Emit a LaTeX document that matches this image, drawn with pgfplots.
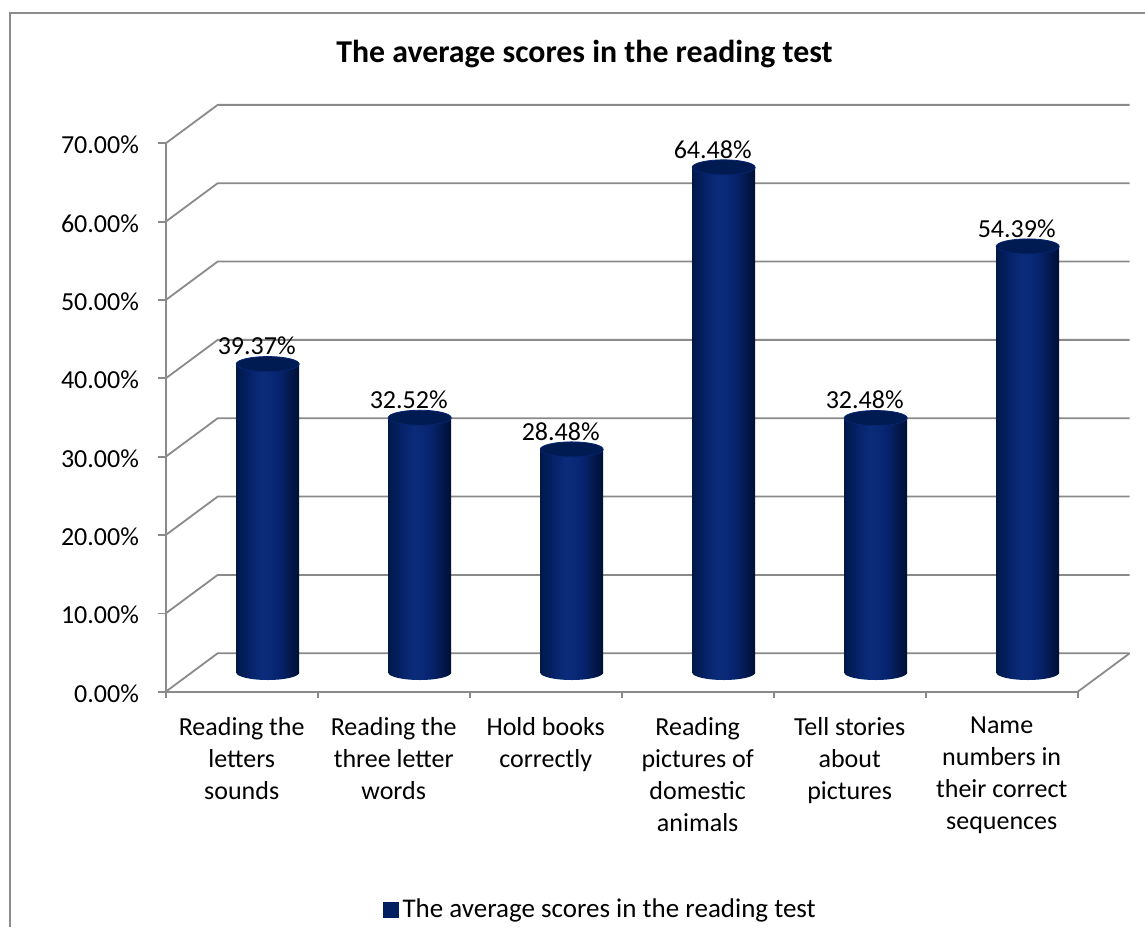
\documentclass[border=0pt]{standalone}
\usepackage{pgfplots}
\pgfplotsset{compat=1.18}
\usepackage{fontspec}
\setmainfont{Carlito}
\definecolor{gridc}{HTML}{8A8A8A}
\definecolor{framec}{HTML}{8C8C8C}
\definecolor{navy}{HTML}{002060}
\definecolor{cylA}{HTML}{001848}
\definecolor{cylB}{HTML}{0B2C7A}
\definecolor{cylM}{HTML}{072470}
\definecolor{cylC}{HTML}{000F33}
\definecolor{topc}{HTML}{001A52}
\pgfdeclarehorizontalshading{cyl}{100bp}{color(0bp)=(cylA); color(25bp)=(cylA); color(38bp)=(cylM); color(46bp)=(cylB); color(58bp)=(cylM); color(75bp)=(cylC); color(100bp)=(cylC)}
\pgfdeclareplotmark{cylbot}{\shade[shading=cyl, draw=none, rotate=3.5] (0pt,0pt) ellipse [x radius=15.75pt, y radius=3.75pt];}
\pgfdeclareplotmark{cyltop}{\filldraw[fill=topc, draw=cylM, line width=0.4pt, rotate=3.5] (0pt,0pt) ellipse [x radius=15.75pt, y radius=3.75pt];}
\pgfplotsset{/pgf/number format/assume math mode=true,
  cylbar/.style={ybar, bar width=31.5pt, bar shift=0pt, draw=none, shade, shading=cyl, forget plot}}
\newcommand{\lblfont}{\fontsize{13}{16}\selectfont}
\begin{document}
\begin{tikzpicture}
\useasboundingbox (0,0) rectangle (572.5pt,463.5pt);
\draw[framec, line width=0.75pt] (5pt,0pt) -- (5pt,457pt) -- (573pt,457pt);
\node[font=\bfseries\fontsize{15.9}{19}\selectfont, anchor=base] at (292.25pt,432.35pt) {The average scores in the reading test};
\begin{axis}[
  at={(95.85pt,127.25pt)}, anchor=south west,
  scale only axis, width=456pt, height=274.2pt,
  xmin=-0.5, xmax=5.5, ymin=0, ymax=70,
  clip=false,
  axis line style={draw=none},
  major tick length=0pt,
  ytick={0,10,...,70},
  yticklabel={\pgfmathprintnumber[fixed,fixed zerofill,precision=2]{\tick}\%},
  yticklabel style={anchor=east, inner sep=0pt, xshift=-26.2pt, yshift=-10.4pt, font=\lblfont},
  xtick={0,...,5},
  xticklabels={{Reading the\\letters\\sounds},{Reading the\\three letter\\words},{Hold books\\correctly},{Reading\\pictures of\\domestic\\animals},{Tell stories\\about\\pictures},{Name\\numbers in\\their correct\\sequences}},
  xticklabel style={anchor=north, inner sep=0pt, align=center, xshift=-13pt, yshift=-22.2pt, font=\lblfont},
  legend style={at={(0.4492,-0.4331)}, anchor=center, draw=none, fill=none, font=\fontsize{13.5}{16}\selectfont},
]
% back wall, side wall and floor
\pgfplotsinvokeforeach{0,10,20,30,40,50,60,70}{
  \draw[gridc, line width=0.9pt] ([xshift=-13pt,yshift=-9.625pt]axis cs:-0.5,#1) -- ([xshift=13pt,yshift=9.625pt]axis cs:-0.5,#1) -- ([xshift=13pt,yshift=9.625pt]axis cs:5.5,#1);
}
\draw[gridc, line width=0.9pt] ([xshift=-13pt,yshift=-9.625pt]axis cs:5.5,0) -- ([xshift=13pt,yshift=9.625pt]axis cs:5.5,0);
% bars, one plot per cylinder so that each is shaded on its own
\addplot[cylbar] coordinates {(0,39.37)};
\addplot[cylbar] coordinates {(1,32.52)};
\addplot[cylbar] coordinates {(2,28.48)};
\addplot[cylbar] coordinates {(3,64.48)};
\addplot[cylbar] coordinates {(4,32.48)};
\addplot[cylbar] coordinates {(5,54.39)};
\addplot[forget plot, only marks, draw=none, mark=cylbot] coordinates {(0,0) (1,0) (2,0) (3,0) (4,0) (5,0)};
\addplot[forget plot, only marks, mark=cyltop,
  nodes near coords={\pgfmathprintnumber[fixed,fixed zerofill,precision=2]{\pgfplotspointmeta}\%},
  every node near coord/.append style={anchor=center, xshift=-5.5pt, yshift=9pt, font=\lblfont, text=black}]
  coordinates {(0,39.37) (1,32.52) (2,28.48) (3,64.48) (4,32.48) (5,54.39)};
\addlegendimage{legend image code/.code={\fill[navy] (0pt,-3.67pt) rectangle (7.35pt,3.67pt);}}
\addlegendentry{The average scores in the reading test}
% front axis lines and ticks
\draw[gridc, line width=0.9pt] ([xshift=-13pt,yshift=-9.625pt]axis cs:-0.5,70) -- ([xshift=-13pt,yshift=-9.625pt]axis cs:-0.5,0) -- ([xshift=-13pt,yshift=-9.625pt]axis cs:5.5,0);
\pgfplotsinvokeforeach{0,10,20,30,40,50,60,70}{
  \draw[gridc, line width=0.9pt] ([xshift=-13pt,yshift=-9.625pt]axis cs:-0.5,#1) -- ++(-3.85pt,0pt);
}
\pgfplotsinvokeforeach{-0.5,0.5,1.5,2.5,3.5,4.5,5.5}{
  \draw[gridc, line width=0.9pt] ([xshift=-13pt,yshift=-9.625pt]axis cs:#1,0) -- ++(0pt,-3pt);
}
\end{axis}
\end{tikzpicture}
\end{document}
